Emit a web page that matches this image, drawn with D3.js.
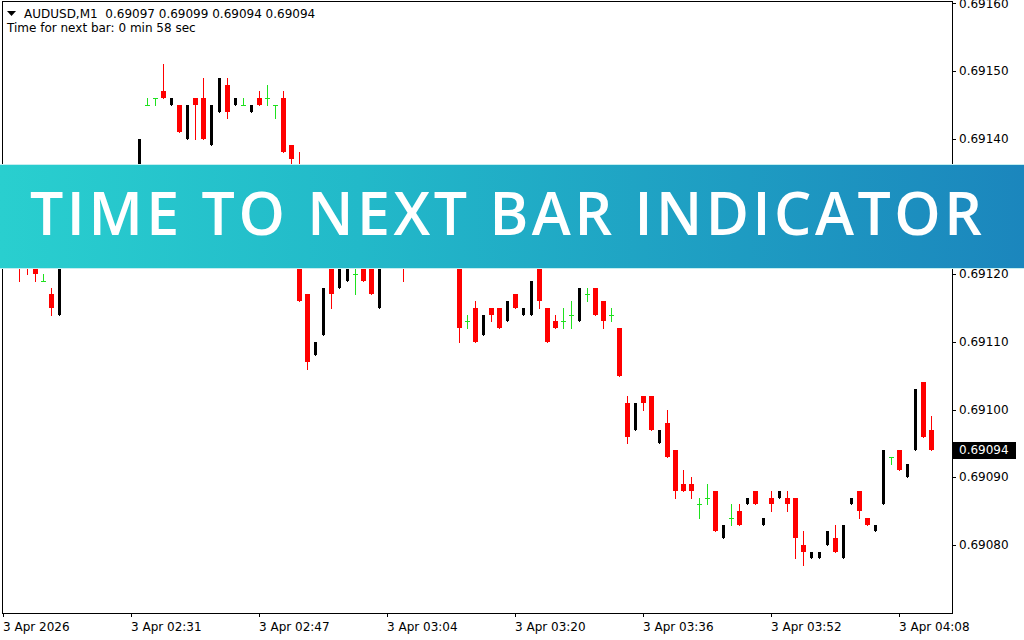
<!DOCTYPE html>
<html><head><meta charset="utf-8">
<script src="https://cdn.jsdelivr.net/npm/d3@7/dist/d3.min.js"></script>
<style>html,body{margin:0;padding:0;background:#fff;overflow:hidden}svg{display:block}</style>
</head><body>
<svg id="c" width="1024" height="640"></svg>
<script>
const opens  = [0.69124,0.69123,0.69124,0.69123,0.69122,0.69119,0.69117,0.69114,0.69124,0.69127,0.69125,0.69129,0.69131,0.69128,0.69132,0.69130,0.69133,0.69129,0.69145,0.69146,0.69147,0.69145,0.69145,0.69140,0.69146,0.69146,0.69139,0.69144,0.69148,0.69145,0.69145,0.69144,0.69146,0.69146,0.69145,0.69146,0.69139,0.69135,0.69117,0.69108,0.69111,0.69124,0.69118,0.69119,0.69120,0.69125,0.69124,0.69115,0.69124,0.69128,0.69127,0.69123,0.69127,0.69124,0.69128,0.69125,0.69129,0.69126,0.69113,0.69115,0.69111,0.69115,0.69115,0.69113,0.69117,0.69114,0.69114,0.69123,0.69115,0.69113,0.69113,0.69114,0.69113,0.69117,0.69118,0.69116,0.69114,0.69112,0.69101,0.69097,0.69102,0.69102,0.69095,0.69098,0.69094,0.69089,0.69089,0.69086,0.69087,0.69088,0.69081,0.69084,0.69085,0.69086,0.69088,0.69083,0.69087,0.69087,0.69087,0.69087,0.69080,0.69078,0.69078,0.69080,0.69081,0.69078,0.69086,0.69088,0.69084,0.69082,0.69086,0.69093,0.69094,0.69090,0.69094,0.69104,0.69097];
const highs  = [0.69126,0.69125,0.69125,0.69124,0.69123,0.69120,0.69118,0.69124,0.69127,0.69128,0.69130,0.69131,0.69132,0.69133,0.69133,0.69133,0.69134,0.69140,0.69146,0.69146,0.69151,0.69146,0.69145,0.69145,0.69146,0.69149,0.69145,0.69149,0.69149,0.69146,0.69146,0.69145,0.69147,0.69148,0.69145,0.69147,0.69139,0.69138,0.69117,0.69110,0.69118,0.69125,0.69125,0.69127,0.69123,0.69126,0.69125,0.69124,0.69128,0.69129,0.69128,0.69127,0.69128,0.69128,0.69129,0.69129,0.69130,0.69127,0.69114,0.69116,0.69114,0.69115,0.69115,0.69116,0.69117,0.69115,0.69119,0.69124,0.69115,0.69114,0.69115,0.69116,0.69118,0.69118,0.69118,0.69116,0.69115,0.69112,0.69102,0.69101,0.69102,0.69102,0.69097,0.69100,0.69094,0.69091,0.69090,0.69087,0.69089,0.69088,0.69083,0.69086,0.69086,0.69087,0.69088,0.69084,0.69088,0.69088,0.69088,0.69087,0.69082,0.69079,0.69079,0.69082,0.69083,0.69083,0.69087,0.69088,0.69084,0.69083,0.69094,0.69093,0.69094,0.69092,0.69103,0.69104,0.69099];
const lows   = [0.69122,0.69121,0.69119,0.69120,0.69119,0.69119,0.69114,0.69114,0.69124,0.69124,0.69125,0.69129,0.69127,0.69128,0.69129,0.69130,0.69128,0.69129,0.69145,0.69145,0.69146,0.69145,0.69141,0.69140,0.69140,0.69140,0.69139,0.69144,0.69143,0.69145,0.69145,0.69144,0.69145,0.69145,0.69143,0.69138,0.69136,0.69116,0.69106,0.69108,0.69111,0.69115,0.69118,0.69119,0.69117,0.69119,0.69117,0.69115,0.69124,0.69126,0.69119,0.69123,0.69124,0.69124,0.69125,0.69125,0.69126,0.69110,0.69112,0.69110,0.69111,0.69113,0.69112,0.69113,0.69115,0.69114,0.69114,0.69115,0.69110,0.69112,0.69112,0.69112,0.69113,0.69116,0.69114,0.69112,0.69113,0.69105,0.69095,0.69097,0.69100,0.69097,0.69095,0.69093,0.69087,0.69088,0.69087,0.69084,0.69086,0.69082,0.69081,0.69083,0.69083,0.69086,0.69086,0.69083,0.69085,0.69087,0.69085,0.69078,0.69077,0.69078,0.69078,0.69080,0.69079,0.69078,0.69086,0.69084,0.69083,0.69082,0.69086,0.69092,0.69091,0.69090,0.69094,0.69096,0.69094];
const closes = [0.69123,0.69122,0.69122,0.69121,0.69120,0.69119,0.69115,0.69124,0.69127,0.69125,0.69129,0.69131,0.69128,0.69132,0.69130,0.69133,0.69129,0.69140,0.69145,0.69146,0.69146,0.69146,0.69141,0.69145,0.69145,0.69140,0.69145,0.69149,0.69144,0.69146,0.69145,0.69145,0.69145,0.69146,0.69145,0.69138,0.69137,0.69116,0.69107,0.69110,0.69118,0.69117,0.69125,0.69127,0.69120,0.69119,0.69117,0.69124,0.69128,0.69126,0.69123,0.69127,0.69124,0.69128,0.69125,0.69129,0.69126,0.69112,0.69113,0.69110,0.69114,0.69114,0.69112,0.69116,0.69115,0.69115,0.69119,0.69116,0.69110,0.69112,0.69113,0.69114,0.69118,0.69117,0.69114,0.69113,0.69114,0.69105,0.69096,0.69101,0.69101,0.69097,0.69097,0.69093,0.69088,0.69088,0.69088,0.69086,0.69087,0.69082,0.69083,0.69084,0.69083,0.69087,0.69086,0.69084,0.69086,0.69088,0.69086,0.69081,0.69079,0.69079,0.69079,0.69082,0.69079,0.69083,0.69087,0.69085,0.69083,0.69083,0.69094,0.69093,0.69091,0.69092,0.69103,0.69096,0.69094];
const timeTickIndex = [0,16,32,48,64,80,96,112];
const timeTickLabels = ["3 Apr 2026","3 Apr 02:31","3 Apr 02:47","3 Apr 03:04","3 Apr 03:20","3 Apr 03:36","3 Apr 03:52","3 Apr 04:08"];
const priceTicks = [0.69160,0.69150,0.69140,0.69120,0.69110,0.69100,0.69090,0.69080];
const symbolText = "AUDUSD,M1  0.69097 0.69099 0.69094 0.69094";
const timerText = "Time for next bar: 0 min 58 sec";
const lastPrice = 0.69094;
const bannerText = "TIME TO NEXT BAR INDICATOR";

const svg = d3.select("#c");
const x = d3.scaleLinear().domain([0, 116]).range([3, 931]);
const y = d3.scaleLinear().domain([0.69080, 0.69160]).range([544.9, 3.3]);
const font = "DejaVu Sans, Verdana, sans-serif";

const data = opens.map((o,i)=>({i,o,h:highs[i],l:lows[i],c:closes[i]}));
const g = svg.append("g").attr("shape-rendering","crispEdges");

// frame
g.append("rect").attr("x",2.5).attr("y",1.5).attr("width",950).attr("height",611.5)
  .attr("fill","none").attr("stroke","#000");

const RED="#ff0000", BLK="#000000", GRN="#1ee11e";
const col = d => d.c < d.o ? RED : (d.c > d.o ? BLK : GRN);

// wicks
g.selectAll(".wick").data(data).join("rect")
  .attr("x", d=>Math.round(x(d.i)))
  .attr("y", d=>Math.round(y(d.h)))
  .attr("width",1)
  .attr("height", d=>Math.max(1, Math.round(y(d.l))-Math.round(y(d.h))+1))
  .attr("fill", col);

// bodies
g.selectAll(".body").data(data.filter(d=>d.o!==d.c)).join("rect")
  .attr("x", d=> d.c<d.o ? Math.round(x(d.i))-2 : Math.round(x(d.i))-1)
  .attr("width", d=> d.c<d.o ? 5 : 3)
  .attr("y", d=>Math.round(y(Math.max(d.o,d.c))))
  .attr("height", d=>Math.max(1, Math.round(y(Math.min(d.o,d.c)))-Math.round(y(Math.max(d.o,d.c)))))
  .attr("fill", col);

// doji
g.selectAll(".doji").data(data.filter(d=>d.o===d.c)).join("rect")
  .attr("x", d=>Math.round(x(d.i))-2).attr("width",5)
  .attr("y", d=>Math.round(y(d.o))).attr("height",1)
  .attr("fill", GRN);

// y axis
const ya = svg.append("g");
priceTicks.forEach(p=>{
  ya.append("rect").attr("x",953).attr("y",Math.round(y(p))).attr("width",3).attr("height",1).attr("fill","#000");
  ya.append("text").attr("x",959).attr("y",y(p)).attr("dy","0.35em")
    .attr("font-family",font).attr("font-size",12).attr("fill","#000").text(p.toFixed(5));
});
ya.append("rect").attr("x",953).attr("y",Math.round(y(lastPrice))-8).attr("width",63).attr("height",17).attr("fill","#000");
ya.append("text").attr("x",959).attr("y",y(lastPrice)).attr("dy","0.35em")
  .attr("font-family",font).attr("font-size",12).attr("fill","#fff").text(lastPrice.toFixed(5));

// x axis
const xa = svg.append("g");
timeTickIndex.forEach((ix,k)=>{
  xa.append("rect").attr("x",Math.round(x(ix))).attr("y",613).attr("width",1).attr("height",4).attr("fill","#000");
  xa.append("text").attr("x",x(ix)).attr("y",631)
    .attr("font-family",font).attr("font-size",12).attr("fill","#000").text(timeTickLabels[k]);
});

// header
svg.append("path").attr("d","M7,11 L16,11 L11.5,16 Z").attr("fill","#000");
svg.append("text").attr("x",24).attr("y",18).attr("font-family",font).attr("font-size",12)
  .style("white-space","pre").attr("fill","#000").text(symbolText);
svg.append("text").attr("x",7).attr("y",31.5).attr("font-family",font).attr("font-size",12).attr("fill","#000").text(timerText);

// banner
const defs = svg.append("defs");
const lg = defs.append("linearGradient").attr("id","bg").attr("x1","0").attr("x2","1").attr("y1","0").attr("y2","0");
lg.append("stop").attr("offset","0").attr("stop-color","#29cfcf");
lg.append("stop").attr("offset","0.35").attr("stop-color","#22b9c9");
lg.append("stop").attr("offset","1").attr("stop-color","#1b86bd");
svg.append("rect").attr("x",0).attr("y",164).attr("width",1024).attr("height",105).attr("fill","#c4eef0");
svg.append("rect").attr("x",0).attr("y",165).attr("width",1024).attr("height",103).attr("fill","url(#bg)");
svg.append("text").attr("x",30).attr("y",235)
  .attr("font-family","Open Sans, Lato, sans-serif").attr("font-weight",600).attr("font-size",59)
  .attr("fill","#fff").attr("textLength",952).attr("lengthAdjust","spacing").text(bannerText);
</script>
</body></html>
